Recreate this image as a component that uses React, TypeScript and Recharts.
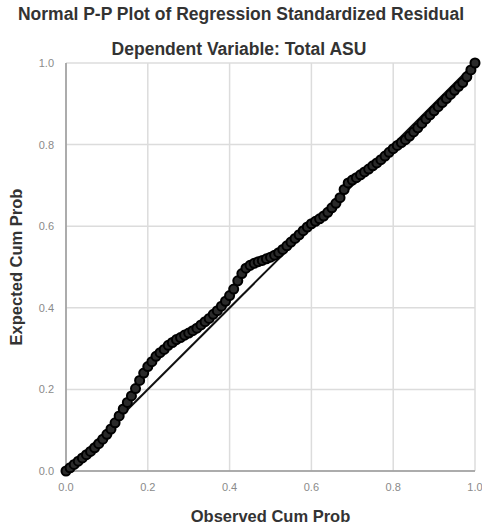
import { ScatterChart, Scatter, XAxis, YAxis, ZAxis, CartesianGrid, ReferenceLine } from 'recharts';

const observed = [
  0.00, 0.01, 0.02, 0.03, 0.04, 0.05, 0.06, 0.07, 0.08, 0.09,
  0.10, 0.11, 0.12, 0.13, 0.14, 0.15, 0.16, 0.17, 0.18, 0.19,
  0.20, 0.21, 0.22, 0.23, 0.24, 0.25, 0.26, 0.27, 0.28, 0.29,
  0.30, 0.31, 0.32, 0.33, 0.34, 0.35, 0.36, 0.37, 0.38, 0.39,
  0.40, 0.41, 0.42, 0.43, 0.44, 0.45, 0.46, 0.47, 0.48, 0.49,
  0.50, 0.51, 0.52, 0.53, 0.54, 0.55, 0.56, 0.57, 0.58, 0.59,
  0.60, 0.61, 0.62, 0.63, 0.64, 0.65, 0.66, 0.67, 0.68, 0.69,
  0.70, 0.71, 0.72, 0.73, 0.74, 0.75, 0.76, 0.77, 0.78, 0.79,
  0.80, 0.81, 0.82, 0.83, 0.84, 0.85, 0.86, 0.87, 0.88, 0.89,
  0.90, 0.91, 0.92, 0.93, 0.94, 0.95, 0.96, 0.97, 0.98, 0.99, 1.00,
];

const expected = [
  0.000, 0.008, 0.016, 0.024, 0.032, 0.040, 0.048, 0.057, 0.067, 0.078,
  0.090, 0.103, 0.118, 0.135, 0.152, 0.168, 0.184, 0.202, 0.222, 0.240,
  0.256, 0.268, 0.281, 0.290, 0.298, 0.308, 0.315, 0.322, 0.327, 0.333,
  0.338, 0.344, 0.350, 0.358, 0.366, 0.374, 0.384, 0.393, 0.404, 0.416,
  0.430, 0.446, 0.466, 0.484, 0.497, 0.504, 0.509, 0.513, 0.516, 0.520,
  0.524, 0.529, 0.535, 0.543, 0.552, 0.561, 0.570, 0.579, 0.589, 0.598,
  0.606, 0.612, 0.618, 0.625, 0.634, 0.645, 0.656, 0.670, 0.690, 0.706,
  0.713, 0.719, 0.726, 0.733, 0.740, 0.748, 0.755, 0.763, 0.772, 0.781,
  0.790, 0.798, 0.805, 0.812, 0.821, 0.831, 0.841, 0.852, 0.863, 0.873,
  0.883, 0.893, 0.903, 0.913, 0.923, 0.933, 0.943, 0.952, 0.966, 0.983, 1.000,
];

const ticks = [0, 0.2, 0.4, 0.6, 0.8, 1.0];

const points = observed.map((x, i) => ({ x, y: expected[i] }));

const font = '"Liberation Sans", Arial, sans-serif';

export default function App() {
  return (
    <div style={{ position: 'absolute', left: 0, top: 0, width: 482, height: 527, background: '#fff', fontFamily: font }}>
      <div style={{ position: 'absolute', top: 4, left: 0, width: 482, textAlign: 'center', fontSize: 17.5, fontWeight: 'bold', color: '#333', whiteSpace: 'nowrap' }}>
        Normal P-P Plot of Regression Standardized Residual
      </div>
      <div style={{ position: 'absolute', top: 39, left: 0, width: 478, textAlign: 'center', fontSize: 17.5, fontWeight: 'bold', color: '#333', whiteSpace: 'nowrap' }}>
        Dependent Variable: Total ASU
      </div>
      <ScatterChart width={482} height={527} margin={{ top: 63, right: 7, left: 0, bottom: 0 }}>
        <CartesianGrid stroke="#dcdcdc" strokeWidth={1.5} horizontalValues={ticks} verticalValues={ticks} />
        <XAxis
          type="number"
          dataKey="x"
          domain={[0, 1]}
          ticks={ticks}
          tickFormatter={(v: number) => v.toFixed(1)}
          height={56}
          tick={{ fill: '#8a8a8a', fontSize: 11, fontFamily: font }}
          axisLine={{ stroke: '#999', strokeWidth: 1.5 }}
          tickLine={false}
          tickMargin={6}
          label={{ value: 'Observed Cum Prob', position: 'insideBottom', offset: 5, fill: '#333', fontSize: 16.5, fontWeight: 'bold', fontFamily: font }}
        />
        <YAxis
          type="number"
          dataKey="y"
          domain={[0, 1]}
          ticks={ticks}
          tickFormatter={(v: number) => v.toFixed(1)}
          width={66}
          tick={{ fill: '#8a8a8a', fontSize: 11, fontFamily: font }}
          axisLine={{ stroke: '#999', strokeWidth: 1.5 }}
          tickLine={false}
          tickMargin={6}
          label={{ value: 'Expected Cum Prob', angle: -90, position: 'insideLeft', offset: 16, fill: '#333', fontSize: 16.5, fontWeight: 'bold', fontFamily: font, style: { textAnchor: 'middle' } }}
        />
        <ZAxis range={[80, 80]} />
        <ReferenceLine segment={[{ x: 0, y: 0 }, { x: 1, y: 1 }]} stroke="#111" strokeWidth={2} />
        <Scatter data={points} fill="#2a2a2a" stroke="#000" strokeWidth={2} isAnimationActive={false} />
      </ScatterChart>
    </div>
  );
}
